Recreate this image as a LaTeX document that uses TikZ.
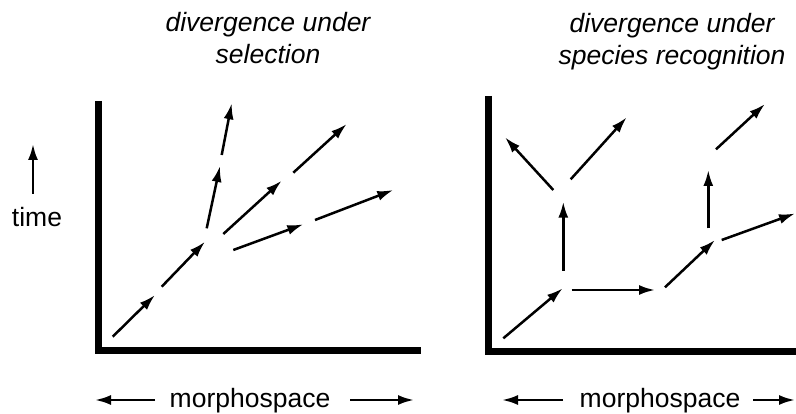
\documentclass[tikz,border=0pt]{standalone}
\usepackage{fontspec}
\setmainfont{Liberation Sans}
\usetikzlibrary{arrows.meta,positioning}

\begin{document}
\begin{tikzpicture}[
  x=1pt,y=-1pt,
  lineage/.style={line width=2.5pt,-{Latex[length=16pt,width=10pt]}},
  axis/.style={line width=7pt,line join=miter},
  label/.style={font=\fontsize{26.5}{32}\selectfont,inner sep=0pt},
  title/.style={label,font=\fontsize{26.5}{32}\selectfont\itshape,align=center,anchor=north}
]
  \useasboundingbox (0,0) rectangle (796,414);

  \node[title] (selt) at (268,12) {divergence under\\selection};
  \node[title] (rect) at (672,13) {divergence under\\species recognition};

  \draw[axis] (98,101) -- (98,350.5) -- (421,350.5);
  \draw[axis] (488,96) -- (488,352) -- (797,352);

  \node[label,anchor=base] (time) at (37,227) {time};
  \coordinate (t1) at (33,194);
  \coordinate (t2) at (33,144);
  \draw[lineage] (t1) -- (t2);

  \node[label,anchor=base] (msl) at (250,407) {morphospace};
  \node[label,anchor=base] (msr) at (660,407) {morphospace};
  \coordinate (ml1) at (155,400);
  \coordinate (ml2) at (95,400);
  \coordinate (ml3) at (350,400);
  \coordinate (ml4) at (414,400);
  \coordinate (mr1) at (563,400);
  \coordinate (mr2) at (502,400);
  \coordinate (mr3) at (753,400);
  \coordinate (mr4) at (795,400);
  \draw[lineage] (ml1) -- (ml2);
  \draw[lineage] (ml3) -- (ml4);
  \draw[lineage] (mr1) -- (mr2);
  \draw[lineage] (mr3) -- (mr4);

  \coordinate (a1) at (112.7,336.7);
  \coordinate (a2) at (155,295);
  \coordinate (a3) at (161.7,286.7);
  \coordinate (a4) at (205,241.7);
  \coordinate (b1) at (206.7,228.3);
  \coordinate (b2) at (220,166);
  \coordinate (b3) at (221.7,155);
  \coordinate (b4) at (231.7,103.3);
  \coordinate (c1) at (223.3,234);
  \coordinate (c2) at (281.7,180.7);
  \coordinate (c3) at (293.3,172.7);
  \coordinate (c4) at (346.7,124);
  \coordinate (d1) at (233.3,250);
  \coordinate (d2) at (303.3,224.3);
  \coordinate (d3) at (315,220);
  \coordinate (d4) at (393.3,190);

  \draw[lineage] (a1) -- (a2);
  \draw[lineage] (a3) -- (a4);
  \draw[lineage] (b1) -- (b2);
  \draw[lineage] (b3) -- (b4);
  \draw[lineage] (c1) -- (c2);
  \draw[lineage] (c3) -- (c4);
  \draw[lineage] (d1) -- (d2);
  \draw[lineage] (d3) -- (d4);

  \coordinate (e1) at (503.3,338.3);
  \coordinate (e2) at (562.7,288.3);
  \coordinate (f1) at (563.3,270.7);
  \coordinate (f2) at (563.3,201.7);
  \coordinate (g1) at (553.3,190);
  \coordinate (g2) at (505,137.3);
  \coordinate (h1) at (570.7,179.3);
  \coordinate (h2) at (626.7,117.3);
  \coordinate (i1) at (571.7,290);
  \coordinate (i2) at (655,290);
  \coordinate (j1) at (665,287.3);
  \coordinate (j2) at (715,240);
  \coordinate (k1) at (708.3,228.3);
  \coordinate (k2) at (708.3,170);
  \coordinate (l1) at (716,149.3);
  \coordinate (l2) at (765,104);
  \coordinate (m1) at (721.7,240);
  \coordinate (m2) at (795,213.5);

  \draw[lineage] (e1) -- (e2);
  \draw[lineage] (f1) -- (f2);
  \draw[lineage] (g1) -- (g2);
  \draw[lineage] (h1) -- (h2);
  \draw[lineage] (i1) -- (i2);
  \draw[lineage] (j1) -- (j2);
  \draw[lineage] (k1) -- (k2);
  \draw[lineage] (l1) -- (l2);
  \draw[lineage] (m1) -- (m2);
\end{tikzpicture}
\end{document}
